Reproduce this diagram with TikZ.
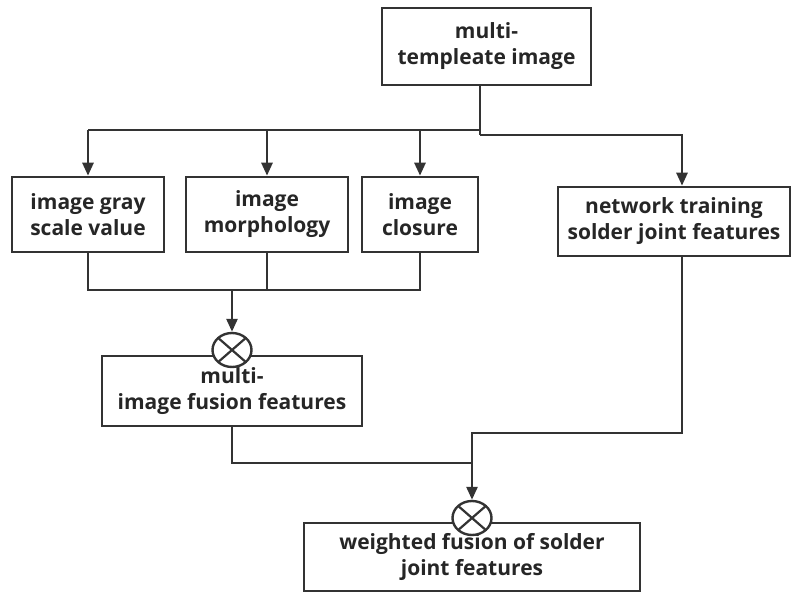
\documentclass[tikz,border=0pt]{standalone}
\usepackage{fontspec}
\setmainfont{Open Sans}
\usetikzlibrary{arrows.meta,shapes.geometric}
\definecolor{ink}{HTML}{333333}
\begin{document}
\begin{tikzpicture}[x=1pt,y=-1pt,
	box/.style={draw=ink,line width=2.6pt,align=center,font=\bfseries\fontsize{21}{26}\selectfont,text=black!85,inner sep=2pt},
	mult/.style={draw=ink,line width=2.4pt,fill=white,ellipse,minimum width=39pt,minimum height=34pt,inner sep=0pt,
		path picture={\draw[line width=2.2pt,ink] (path picture bounding box.north west) -- (path picture bounding box.south east)
			(path picture bounding box.north east) -- (path picture bounding box.south west);}},
	link/.style={draw=ink,line width=2.6pt},
	arr/.style={link,-{Triangle[length=13pt,width=11pt]}}]
	\useasboundingbox (0,0) rectangle (793,593);

	\node (tmpl) [box,minimum width=209pt,minimum height=77pt] at (486.5,46.5) {multi-\\templeate image};
	\node (gray) [box,minimum width=152pt,minimum height=75pt] at (88,214.5) {image gray\\scale value};
	\node (morph) [box,minimum width=162pt,minimum height=75pt] at (267,214.5) {image\\morphology};
	\node (clos) [box,minimum width=116pt,minimum height=75pt] at (420,214.5) {image\\closure};
	\node (net) [box,minimum width=232pt,minimum height=69pt] at (674,221.5) {network training\\solder joint features};
	\node (fuse) [box,minimum width=260pt,minimum height=70pt] at (232,391) {multi-\\image fusion features};
	\node (wfuse) [box,minimum width=336pt,minimum height=68pt] at (472,557) {weighted fusion of solder\\joint features};

	\node (m1) [mult] at (232,350) {};
	\node (m2) [mult] at (472,518) {};

	\coordinate (split) at (480,130);
	\coordinate (fork) at (480,135);
	\coordinate (join) at (232,290);
	\coordinate (bend) at (682,433);
	\coordinate (meet) at (472,463);

	% template image to the three image features and to the network
	\draw[link] (tmpl.south -| split) -- (fork);
	\draw[link] (gray.north |- split) -- (split);
	\draw[arr] (gray.north |- split) -- (gray.north);
	\draw[arr] (morph.north |- split) -- (morph.north);
	\draw[arr] (clos.north |- split) -- (clos.north);
	\draw[arr] (fork) -| (bend |- net.north);

	% fusion of the image features
	\draw[link] (gray.south) |- (clos.south |- join) -- (clos.south);
	\draw[link] (morph.south) -- (morph.south |- join);
	\draw[arr] (join) -- (m1.north);

	% weighted fusion
	\draw[link] (fuse.south) |- (meet);
	\draw[arr] (bend |- net.south) -- (bend) -| (m2.north);
\end{tikzpicture}
\end{document}
